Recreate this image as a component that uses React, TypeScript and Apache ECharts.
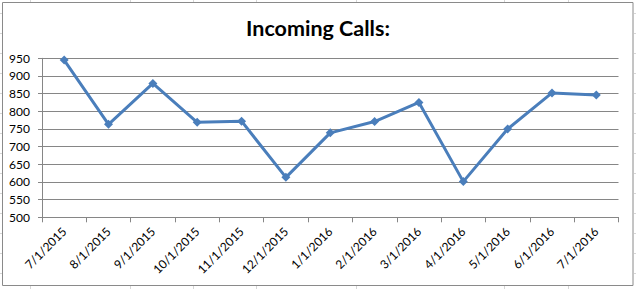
import React, { useEffect, useRef } from "react";
import * as echarts from "echarts";

// Monthly incoming call counts
const months = [
  "7/1/2015", "8/1/2015", "9/1/2015", "10/1/2015", "11/1/2015", "12/1/2015",
  "1/1/2016", "2/1/2016", "3/1/2016", "4/1/2016", "5/1/2016", "6/1/2016", "7/1/2016",
];
const calls = [945, 763, 879, 769, 772, 613, 739, 771, 825, 601, 750, 852, 846];

const yMin = 500;
const yMax = 950;
const yStep = 50;

// Faint spreadsheet cell borders showing around the chart frame
const cellColumns = [30, 130, 193, 256, 356, 504, 568];
const cellRows = [13, 33, 53, 73, 93, 113, 133, 153, 173, 193, 213, 233, 253, 273];

const W = 636;
const H = 289;

export default function App() {
  const ref = useRef<HTMLDivElement>(null);

  useEffect(() => {
    document.body.style.margin = "0";
    if (!ref.current) return;
    const chart = echarts.init(ref.current, undefined, { renderer: "svg" });

    const cellLine = "#d6d6d6";
    const graphics: any[] = [];
    cellColumns.forEach((x) => {
      graphics.push({ type: "line", silent: true, z: -1, shape: { x1: x + 0.5, y1: 0, x2: x + 0.5, y2: 2 }, style: { stroke: cellLine, lineWidth: 1 } });
      graphics.push({ type: "line", silent: true, z: -1, shape: { x1: x + 0.5, y1: 286, x2: x + 0.5, y2: H }, style: { stroke: cellLine, lineWidth: 1 } });
    });
    cellRows.forEach((y) => {
      graphics.push({ type: "line", silent: true, z: -1, shape: { x1: 0, y1: y + 0.5, x2: 2, y2: y + 0.5 }, style: { stroke: cellLine, lineWidth: 1 } });
      graphics.push({ type: "line", silent: true, z: -1, shape: { x1: 634, y1: y + 0.5, x2: W, y2: y + 0.5 }, style: { stroke: cellLine, lineWidth: 1 } });
    });
    // chart frame
    graphics.push({
      type: "rect",
      silent: true,
      z: -1,
      shape: { x: 2.5, y: 2.5, width: 630.5, height: 283 },
      style: { fill: "#ffffff", stroke: "#8a8a8a", lineWidth: 1 },
    });
    graphics.push({
      type: "text",
      x: 318,
      y: 28,
      style: {
        text: "Incoming Calls:",
        fontFamily: "Lato",
        fontWeight: "bold",
        fontSize: 21.5,
        fill: "#000000",
        align: "center",
        verticalAlign: "middle",
      },
    });

    chart.setOption({
      animation: false,
      backgroundColor: "#ffffff",
      graphic: graphics,
      grid: { left: 42, right: 17.5, top: 58.3, bottom: 71.7, containLabel: false },
      xAxis: {
        type: "category",
        data: months,
        boundaryGap: true,
        axisLine: { lineStyle: { color: "#868686", width: 1 } },
        axisTick: { show: true, length: 5, lineStyle: { color: "#868686" } },
        axisLabel: {
          rotate: 45,
          margin: 12,
          fontFamily: "Lato",
          fontSize: 12,
          color: "#000000",
          interval: 0,
        },
        splitLine: { show: false },
      },
      yAxis: {
        type: "value",
        min: yMin,
        max: yMax,
        interval: yStep,
        axisLine: { show: true, lineStyle: { color: "#868686", width: 1 } },
        axisTick: { show: true, length: 4, lineStyle: { color: "#868686" } },
        axisLabel: {
          margin: 12,
          fontFamily: "Lato",
          fontSize: 12,
          color: "#000000",
        },
        splitLine: { show: true, lineStyle: { color: "#868686", width: 1 } },
      },
      series: [
        {
          type: "line",
          data: calls,
          symbol: "diamond",
          symbolSize: 9,
          lineStyle: { color: "#4A7EBB", width: 3 },
          itemStyle: { color: "#4A7EBB" },
        },
      ],
    });

    return () => chart.dispose();
  }, []);

  return <div ref={ref} style={{ width: W, height: H }} />;
}
